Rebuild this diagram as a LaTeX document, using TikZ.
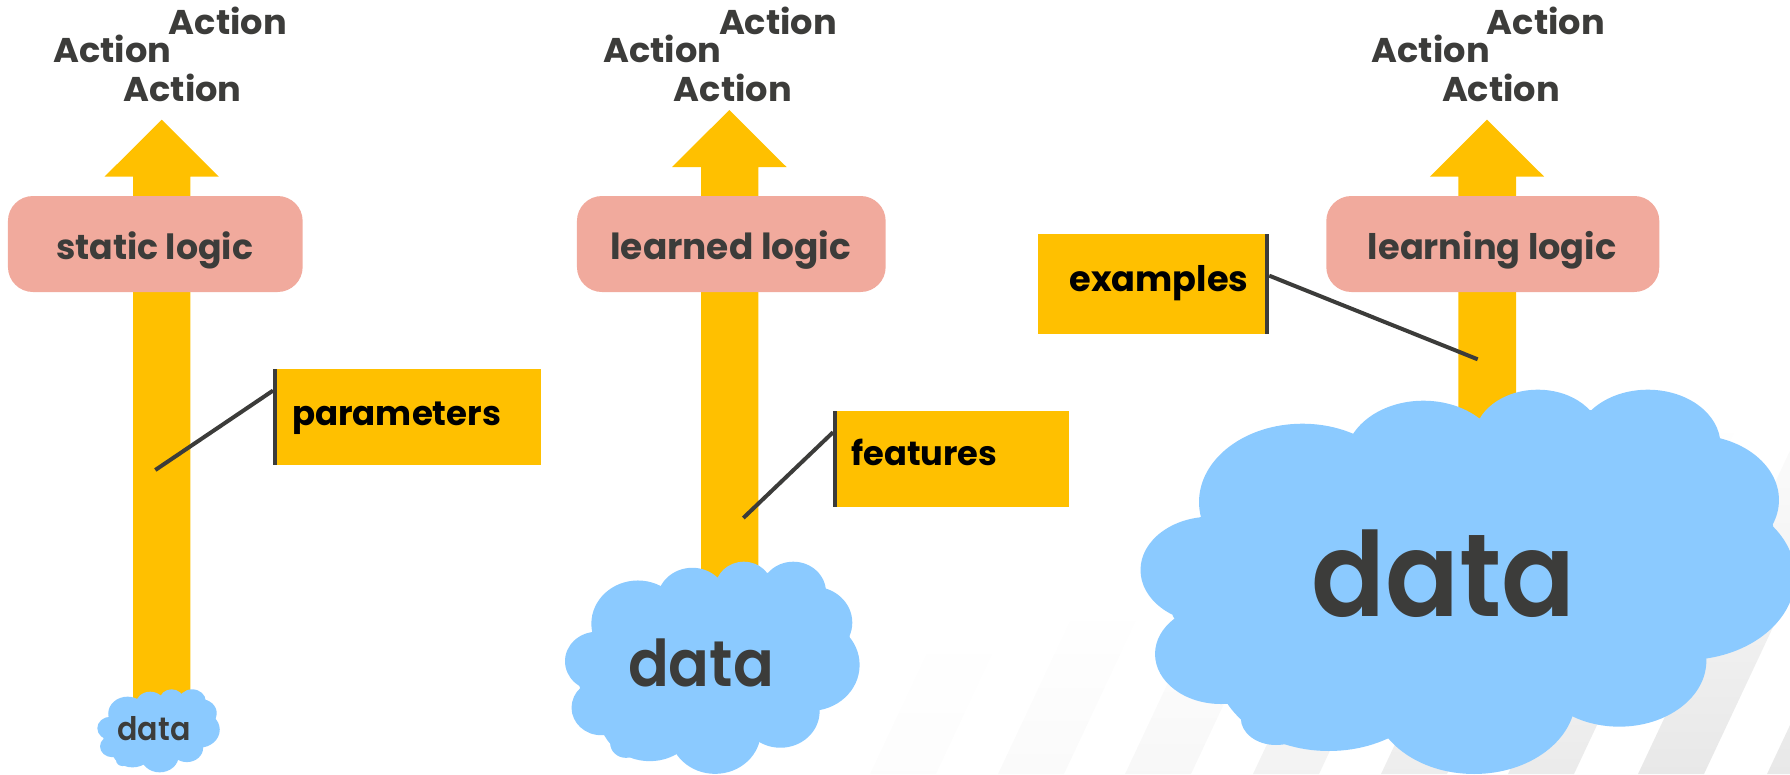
\documentclass[tikz,border=0pt]{standalone}
\usepackage{fontspec}
\setmainfont{Poppins}
\newfontfamily\semifont{Poppins SemiBold}
\usetikzlibrary{calc}
\definecolor{amber}{HTML}{FFC000}
\definecolor{salmon}{HTML}{F1AA9D}
\definecolor{sky}{HTML}{8BCAFF}
\definecolor{ink}{HTML}{3C3C3A}
\tikzset{
  txt/.style={inner sep=0pt,outer sep=0pt,anchor=base,font=\bfseries},
  datatxt/.style={inner sep=0pt,outer sep=0pt,anchor=base,font=\semifont,text=ink},
  logicbox/.style={fill=salmon,rounded corners=25pt,inner sep=0pt,minimum height=96pt},
  tagbox/.style={fill=amber,inner sep=0pt},
  tagbar/.style={fill=ink,inner sep=0pt,minimum width=4pt},
  leader/.style={draw=ink,line width=4pt}
}
\newcommand{\fitw}[2]{\resizebox{#1pt}{!}{#2}}
\newcommand{\fitwh}[3]{\resizebox{#1pt}{#2pt}{#3}}
\newcommand{\upshaft}[5]{%
  \fill[amber] (#1,#5) -- (#1,#4+57) -- (#3-57.2,#4+57) -- (#3,#4) -- (#3+57.2,#4+57) -- (#2,#4+57) -- (#2,#5) -- cycle;}
\newcommand{\cloudshape}[4]{%
  \begin{scope}[shift={(#1,#2)},xscale=#3,yscale=#4,shift={(-92,-119)}]
    \fill[sky] (574,254) -- (863,205) -- (1117,180) -- (1409,265) -- (1530,527) -- (1378,921) -- (1074,1098) -- (658,1163) -- (292,1062) -- (165,797) -- (227,502) -- cycle;
    \foreach \cx/\cy/\cr in {460/456/235,735/330/178,995/263/144,1245/284/165,1348/450/195,1330/680/250,1180/932/198,850/1041/231,520/945/258,400/1105/80,252/660/160,275/912/150}
      \fill[sky] (\cx,\cy) circle [radius=\cr];
  \end{scope}}
\newcommand{\actions}[4]{%
  \node[txt,text=ink] (#1up) at (#2,34.3) {\fitwh{118}{27.5}{Action}};
  \node[txt,text=ink] (#1left) at (#3,62.3) {\fitwh{118}{27.5}{Action}};
  \node[txt,text=ink] (#1low) at (#4,101) {\fitwh{118}{27.5}{Action}};}
\begin{document}
\begin{tikzpicture}[x=1pt,y=-1pt]
\useasboundingbox (0,0) rectangle (1790,774);
\begin{scope}
\clip (0,0) rectangle (1790,774);
% faint background stripes
\foreach \xa/\hh/\gr in {870/150/1,998/170/2,1125/200/3,1253/250/5,1381/300/7,1508/350/8,1638/400/9,1767/400/9}{
  \shade[bottom color=black!\gr!white,top color=white]
    (\xa,774) -- (\xa+66,774) -- (\xa+66+0.47*\hh,774-\hh) -- (\xa+0.47*\hh,774-\hh) -- cycle;
}
% arrows
\upshaft{133}{190.3}{161.7}{119.7}{705}
\upshaft{701}{758.3}{729.3}{110}{600}
\upshaft{1458.3}{1516}{1487}{119.7}{430}
% clouds
\cloudshape{97.3}{689.3}{0.0823}{0.072}
\cloudshape{565}{561.7}{0.198}{0.184}
\cloudshape{1140.5}{389.7}{0.44}{0.3333}
\end{scope}
% logic boxes
\node[logicbox,minimum width=294.7pt] (lbA) at (155.3,244) {};
\node[logicbox,minimum width=308.7pt] (lbB) at (731.3,244) {};
\node[logicbox,minimum width=333pt] (lbC) at (1492.8,244) {};
\node[txt,text=ink] (tA) at (154.7,259.3) {\fitw{197}{static logic}};
\node[txt,text=ink] (tB) at (730.8,259.3) {\fitw{241}{learned logic}};
\node[txt,text=ink] (tC) at (1492.2,259.3) {\fitw{248.5}{learning logic}};
% actions
\actions{a}{227.8}{112.2}{182.7}
\actions{b}{778}{662.3}{732.8}
\actions{c}{1545.8}{1430.7}{1501}
% tag: parameters
\node[tagbox,minimum width=268pt,minimum height=96pt] (pbox) at (407,417) {};
\node[tagbar,minimum height=96pt] (pbar) at (275.2,417) {};
\node[txt,text=black] (ptxt) at (396.7,425) {\fitw{209}{parameters}};
\coordinate (ptip) at (155.3,470);
\draw[leader] ($(pbar.north west)!0.226!(pbar.south west)$) -- (ptip);
% tag: features
\node[tagbox,minimum width=235.7pt,minimum height=96pt] (fbox) at (951.2,458.7) {};
\node[tagbar,minimum height=96pt] (fbar) at (835.3,458.7) {};
\node[txt,text=black] (ftxt) at (924.4,465.7) {\fitw{146}{features}};
\coordinate (ftip) at (743.3,518);
\draw[leader] ($(fbar.north west)!0.225!(fbar.south west)$) -- (ftip);
% tag: examples
\node[tagbox,minimum width=231pt,minimum height=100pt] (ebox) at (1153.5,284) {};
\node[tagbar,minimum height=100pt] (ebar) at (1267,284) {};
\node[txt,text=black] (etxt) at (1159,291) {\fitw{179}{examples}};
\coordinate (etip) at (1477.7,359.3);
\draw[leader] ($(ebar.north east)!0.417!(ebar.south east)$) -- (etip);
% data labels
\node[datatxt] (dA) at (154,740.7) {\fitwh{73}{24}{data}};
\node[datatxt] (dB) at (701,686.7) {\fitwh{146}{47.7}{data}};
\node[datatxt] (dC) at (1443.3,616.7) {\fitwh{264}{86.7}{data}};
\end{tikzpicture}
\end{document}
